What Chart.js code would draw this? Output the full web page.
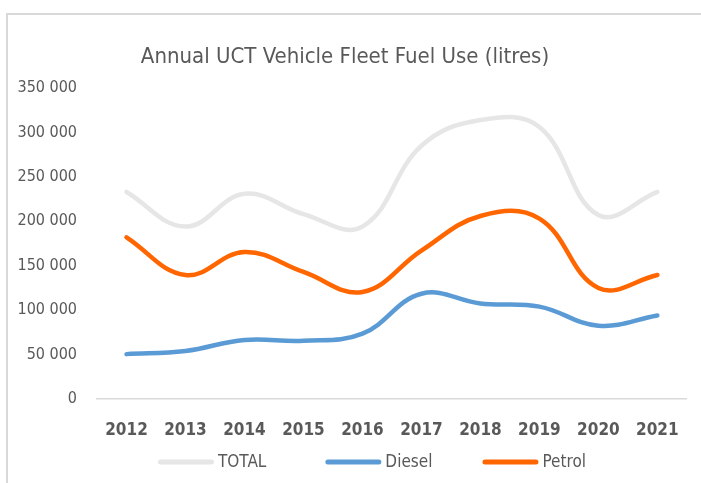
<!DOCTYPE html>
<html>
<head>
<meta charset="utf-8">
<script src="https://cdn.jsdelivr.net/npm/chart.js@4.4.1/dist/chart.umd.min.js"></script>
<style>
  html, body { margin: 0; padding: 0; background: #ffffff; overflow: hidden; }
  #wrap { position: relative; width: 701px; height: 483px; }
  #frame { position: absolute; left: 6px; top: 13px; width: 900px; height: 700px;
           border-top: 2px solid #d9d9d9; border-left: 2px solid #d9d9d9; box-sizing: border-box; }
  #c { position: absolute; left: 0; top: 0; }
</style>
</head>
<body>
<div id="wrap">
  <div id="frame"></div>
  <canvas id="c" width="701" height="483"></canvas>
</div>
<script>
const chartTitle = "Annual UCT Vehicle Fleet Fuel Use (litres)";
const years = ["2012", "2013", "2014", "2015", "2016", "2017", "2018", "2019", "2020", "2021"];
const seriesNames = ["TOTAL", "Diesel", "Petrol"];
const totalValues = [233000, 194000, 231000, 208000, 194000, 285000, 314000, 306000, 207000, 233000];
const dieselValues = [50500, 54000, 66500, 65500, 73500, 118500, 107500, 104000, 82500, 94000];
const petrolValues = [182000, 139500, 165500, 143000, 120500, 167000, 206000, 203000, 125000, 139500];
const yTicks = [0, 50000, 100000, 150000, 200000, 250000, 300000, 350000];

const FONT = '"Liberation Sans Narrow", "DejaVu Sans Condensed", sans-serif';
const TXT = '#595959';

function fmt(v) {
  return String(v).replace(/\B(?=(\d{3})+(?!\d))/g, ' ');
}

const mk = (label, data, color) => ({
  label, data,
  borderColor: color, backgroundColor: color,
  borderWidth: 4.5, borderCapStyle: 'round', borderJoinStyle: 'round',
  pointRadius: 0, pointHoverRadius: 0,
  tension: 0.4, fill: false
});

// Legend drawn from the datasets (custom spacing like the original)
const legendPlugin = {
  id: 'customLegend',
  afterDraw(chart) {
    const ctx = chart.ctx;
    const sets = chart.data.datasets;
    const lineLen = 56, textGap = 4, itemGaps = [59, 50], cy = 462, startX = 158;
    ctx.save();
    ctx.font = '17px ' + FONT;
    ctx.textBaseline = 'middle';
    ctx.textAlign = 'left';
    let x = startX;
    sets.forEach((ds, i) => {
      ctx.strokeStyle = ds.borderColor;
      ctx.lineWidth = 5;
      ctx.lineCap = 'round';
      ctx.beginPath();
      ctx.moveTo(x + 2.5, cy);
      ctx.lineTo(x + lineLen - 2.5, cy);
      ctx.stroke();
      ctx.fillStyle = TXT;
      ctx.fillText(ds.label, x + lineLen + textGap, cy + 1);
      x += lineLen + textGap + ctx.measureText(ds.label).width + (itemGaps[i] || 0);
    });
    ctx.restore();
  }
};

new Chart(document.getElementById('c'), {
  type: 'line',
  data: {
    labels: years,
    datasets: [
      mk(seriesNames[0], totalValues, '#e7e6e6'),
      mk(seriesNames[1], dieselValues, '#5b9bd5'),
      mk(seriesNames[2], petrolValues, '#ff6600')
    ]
  },
  plugins: [legendPlugin],
  options: {
    responsive: false,
    animation: false,
    events: [],
    layout: { padding: { left: 0, right: 11, top: 0, bottom: 20 } },
    plugins: {
      tooltip: { enabled: false },
      legend: { display: false },
      title: {
        display: true, text: chartTitle, color: TXT,
        font: { family: FONT, size: 22, weight: 'normal' },
        padding: { top: 44, bottom: 17.6 }
      }
    },
    scales: {
      x: {
        offset: true,
        grid: { display: false, drawTicks: false },
        border: { display: true, color: '#d9d9d9', width: 1.5 },
        ticks: { color: TXT, font: { family: FONT, size: 17, weight: 'bold' }, padding: 21.8, maxRotation: 0, autoSkip: false }
      },
      y: {
        min: 0, max: 350000,
        afterBuildTicks: (s) => { s.ticks = yTicks.map(v => ({ value: v })); },
        afterFit: (s) => { s.width = 97; },
        grid: { display: false, drawTicks: false },
        border: { display: false },
        ticks: { color: TXT, font: { family: FONT, size: 16 }, padding: 20, callback: (v) => fmt(v) }
      }
    }
  }
});
</script>
</body>
</html>
